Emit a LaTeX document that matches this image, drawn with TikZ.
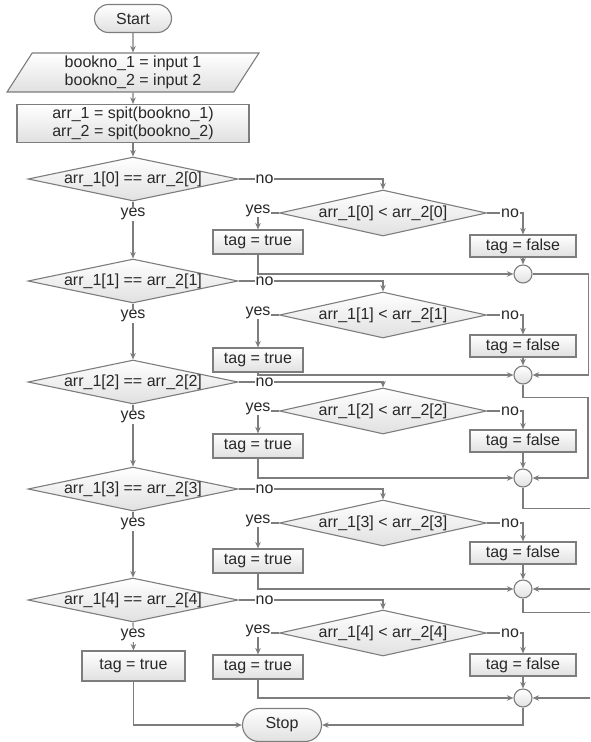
\documentclass[tikz,border=0pt]{standalone}
\usepackage{fontspec}
\setmainfont{Liberation Sans}
\usepackage{tikz}
\usetikzlibrary{arrows.meta,shapes.geometric,shapes.misc}
\definecolor{edge}{RGB}{125,125,125}
\definecolor{ink}{RGB}{40,40,40}
\newcommand{\tight}[1]{\makebox[0pt]{#1}}

\begin{document}
\begin{tikzpicture}[x=1pt,y=-1pt,font=\fontsize{16}{18.5}\selectfont,text=ink,line width=1.1pt,
  box/.style={draw=edge,top color=white,bottom color=black!12,inner sep=0pt},
  term/.style={box,rounded rectangle,minimum width=77pt,minimum height=28pt},
  io/.style={box,trapezium,trapezium left angle=63,trapezium right angle=117,trapezium stretches=true,minimum width=252pt,minimum height=39pt,align=center},
  proc/.style={box,rectangle,align=center},
  test/.style={box,diamond,minimum width=210pt,minimum height=44pt},
  joint/.style={box,circle,minimum size=18pt},
  flow/.style={draw=edge,-{Stealth[length=6.5pt,width=5.5pt]}},
  lbl/.style={fill=white,inner sep=1pt}]
  \clip (0,0) rectangle (590,742);
  \node[term] (start) at (133,18.5) {Start};
  \node[io] (read) at (133,72.5) {bookno\_1 = input 1\\ bookno\_2 = input 2};
  \node[proc,minimum width=232pt,minimum height=38pt] (split) at (133,123.5) {arr\_1 = spit(bookno\_1)\\ arr\_2 = spit(bookno\_2)};
  \draw[flow] (start) -- (read);
  \draw[flow] (read) -- (split);
  % one row per digit: test, compare, the two tags and the joint
  \foreach \i/\m/\s/\t/\f/\c in {0/179/213/242/246/274,1/281/315/360/346/375,2/382/411/446/441/478,3/489/523/561/553/589,4/600/633/667/665/698}{
    \node[test] (m\i) at (133,\m) {\tight{arr\_1[\i] == arr\_2[\i]}};
    \node[test,minimum width=207pt,minimum height=46pt] (s\i) at (383,\s) {\tight{arr\_1[\i] < arr\_2[\i]}};
    \node[proc,minimum width=90pt,minimum height=24pt] (yt\i) at (258,\t) {tag = true};
    \node[proc,minimum width=106pt,minimum height=22pt] (nf\i) at (523,\f) {tag = false};
    \node[joint] (c\i) at (523,\c) {};
    \draw[flow] (m\i.east) -| node[lbl,pos=0.09] {no} (s\i.north);
    \draw[flow] (s\i.west) -| node[lbl,pos=0.5,anchor=base] {yes} (yt\i.north);
    \draw[flow] (s\i.east) -| node[lbl,pos=0.32] {no} (nf\i.north);
    \draw[flow] (nf\i.south) -- (c\i.north);
    \draw[flow] (yt\i.south) |- (c\i.west);
  }
  \draw[flow] (split) -- (m0.north);
  \foreach \i/\j in {0/1,1/2,2/3,3/4}
    \draw[flow] (m\i.south) -- (m\j.north) node[lbl,pos=0,below=5pt] {yes};
  \node[proc,minimum width=103pt,minimum height=30pt] (tt) at (133.5,666) {tag = true};
  \node[term,minimum width=79pt,minimum height=33pt] (stop) at (282,725) {Stop};
  \draw[flow] (m4.south) -- (tt.north) node[lbl,pos=0,below=5pt] {yes};
  % joints run down the right edge
  \draw[flow] (c0.east) -- ++(56,0) |- (c1.east);
  \draw[flow] (c1.south) -- ++(0,13) -- ++(65,0) |- (c2.east);
  \draw[flow] (c2.south) -- ++(0,21) -- ++(72,0) |- (c3.east);
  \draw[flow] (c3.south) -- ++(0,14) -- ++(72,0) |- (c4.east);
  \draw[flow] (c4.south) |- (stop.east);
  \draw[flow] (tt.south) |- (stop.west);
\end{tikzpicture}
\end{document}
